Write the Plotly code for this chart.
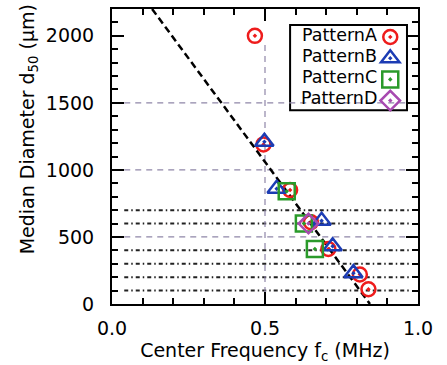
import plotly.graph_objects as go

# ---- data ----
a_f = [0.467, 0.495, 0.582, 0.650, 0.707, 0.810, 0.838]
a_d = [2000, 1190, 850, 610, 410, 220, 110]
b_f = [0.498, 0.538, 0.685, 0.721, 0.789]
b_d = [1210, 860, 620, 430, 230]
c_f = [0.571, 0.627, 0.663]
c_d = [840, 600, 410]
d_f = [0.642]
d_d = [600]
fit_f = [0.131, 0.843]
fit_d = [2200, 0]
names = ["PatternA", "PatternB", "PatternC", "PatternD"]
grid_d = [500, 1000, 1500]
grid_f = [0.5]
level_d = [100, 200, 300, 400, 600, 700]

FONT = "DejaVu Sans"
fig = go.Figure()

# reference lines
for y in level_d:
    fig.add_shape(type="line", xref="x", yref="y", x0=0.04, x1=0.97, y0=y, y1=y,
                  line=dict(color="#222", width=2, dash="4px,3px,1.5px,3px"), layer="below")
for y in grid_d:
    fig.add_shape(type="line", xref="x", yref="y", x0=0.04, x1=0.97, y0=y, y1=y,
                  line=dict(color="#8f86a8", width=1.2, dash="6px,5px"), layer="below")
for x in grid_f:
    fig.add_shape(type="line", xref="x", yref="y", x0=x, x1=x, y0=0, y1=1950,
                  line=dict(color="#8f86a8", width=1.2, dash="6px,5px"), layer="below")

fig.add_trace(go.Scatter(x=fit_f, y=fit_d, mode="lines", showlegend=False,
                         line=dict(color="black", width=2.5, dash="7px,4px")))

series = [
    (a_f, a_d, "circle-open-dot", "#ee1c1c", 14),
    (b_f, b_d, "triangle-up-open-dot", "#1c3cb4", 16),
    (c_f, c_d, "square-open-dot", "#2a9a2a", 16),
    (d_f, d_d, "diamond-open-dot", "#a84ab0", 15),
]
for (xs, ys, sym, col, sz), nm in zip(series, names):
    fig.add_trace(go.Scatter(x=xs, y=ys, mode="markers", name=" ",
                             marker=dict(symbol=sym, color=col, size=sz,
                                         line=dict(color=col, width=2.5))))

# legend box and texts
fig.add_shape(type="rect", xref="paper", yref="paper", x0=0.582, x1=0.964, y0=0.657, y1=0.946,
              line=dict(color="black", width=2), fillcolor="white", layer="below")
for i, nm in enumerate(names):
    fig.add_annotation(x=0.873, y=0.912 - i * 0.0715, xref="paper", yref="paper",
                       text=nm, showarrow=False, xanchor="right", yanchor="middle",
                       font=dict(family=FONT, size=17.5, color="black"))

# y-axis title
fig.add_annotation(x=-0.2745, y=0.592, xref="paper", yref="paper", textangle=-90,
                   text="Median Diameter d<sub>50</sub> (μm)", showarrow=False,
                   xanchor="center", yanchor="middle",
                   font=dict(family=FONT, size=19, color="black"))

axis_common = dict(showline=True, linecolor="black", linewidth=2, mirror="ticks",
                   ticks="inside", tickcolor="black", tickwidth=2, ticklen=12,
                   showgrid=False, zeroline=False,
                   tickfont=dict(family=FONT, size=19, color="black"))

fig.update_xaxes(range=[0, 1], tickvals=[0, 0.5, 1.0], ticktext=["0.0", "0.5", "1.0"],
                 minor=dict(ticks="inside", dtick=0.1, ticklen=6, tickwidth=2, tickcolor="black"),
                 title=dict(text="Center Frequency f<sub>c</sub> (MHz)", standoff=6,
                            font=dict(family=FONT, size=19, color="black")),
                 ticklabelstandoff=6, **axis_common)
fig.update_yaxes(range=[0, 2200], tickvals=[0, 500, 1000, 1500, 2000],
                 minor=dict(ticks="inside", dtick=100, ticklen=6, tickwidth=2, tickcolor="black"),
                 ticklabelstandoff=12, **axis_common)

fig.update_layout(
    width=447, height=365,
    margin=dict(l=112, r=29, t=7, b=61),
    paper_bgcolor="white", plot_bgcolor="white",
    showlegend=True,
    legend=dict(x=0.844, y=0.958, xanchor="left", yanchor="top",
                bgcolor="rgba(0,0,0,0)", borderwidth=0,
                font=dict(family=FONT, size=14), tracegroupgap=0,
                itemwidth=30),
)
fig.write_html("out.html")
